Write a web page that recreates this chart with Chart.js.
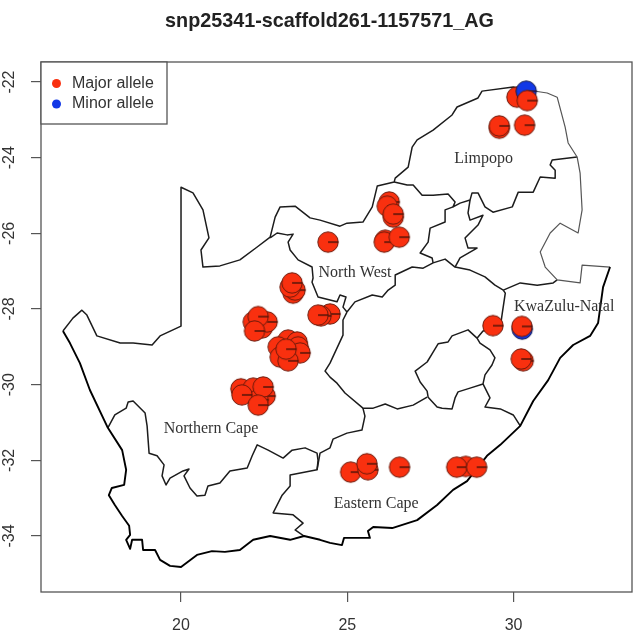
<!DOCTYPE html>
<html>
<head>
<meta charset="utf-8">
<title>snp25341-scaffold261-1157571_AG</title>
<script src="https://cdn.jsdelivr.net/npm/chart.js@4/dist/chart.umd.min.js"></script>
<style>
  html, body { margin: 0; padding: 0; background: #fff; }
  canvas { display: block; filter: blur(0.4px); }
</style>
</head>
<body>
<canvas id="mapChart" width="636" height="633"></canvas>
<script>
const chartTitle = "snp25341-scaffold261-1157571_AG";
const xTicks = [20, 25, 30];
const yTicks = [-22, -24, -26, -28, -30, -32, -34];
const legendLabels = ["Major allele", "Minor allele"];

// sample sites [lon, lat], later ones sit on top
const majorBehind = [[30.10, -22.40]];
const minorSites = [[30.38, -22.24], [30.26, -28.53]];
const majorSites = [
  [30.41, -22.49], [29.57, -23.22], [29.57, -23.16], [30.33, -23.14],
  [24.42, -26.23], [26.14, -26.18], [26.11, -26.23], [26.56, -26.10],
  [26.26, -25.17], [26.20, -25.28], [26.38, -25.57], [26.38, -25.49],
  [23.37, -27.58], [23.43, -27.50], [23.28, -27.42], [23.34, -27.31],
  [24.48, -28.13], [24.21, -28.18], [24.12, -28.16],
  [22.17, -28.34], [22.44, -28.50], [22.59, -28.34], [22.32, -28.20], [22.21, -28.58],
  [23.22, -28.82], [23.49, -28.87], [22.92, -29.00], [23.52, -29.00],
  [23.58, -29.16], [22.98, -29.27], [23.22, -29.37], [23.16, -29.06],
  [21.80, -30.11], [22.17, -30.09], [22.53, -30.30], [22.32, -30.40],
  [21.83, -30.27], [22.47, -30.06], [22.32, -30.54],
  [29.38, -28.44], [30.25, -28.46], [30.29, -29.37], [30.23, -29.32],
  [25.10, -32.31], [25.62, -32.25], [25.59, -32.09], [26.57, -32.18],
  [28.56, -32.16], [28.29, -32.18], [28.89, -32.18]
];

// province labels
const regionNames = ["Limpopo", "North West", "KwaZulu-Natal", "Northern Cape", "Eastern Cape"];
const regionLon = [29.10, 25.23, 31.52, 20.90, 25.87];
const regionLat = [-24.04, -27.05, -27.95, -31.17, -33.15];

// outer border, split where the line weight changes in the map
const coastBorder = [
  [16.45,-28.58],[16.66,-28.90],[16.96,-29.43],[17.26,-30.14],[17.80,-31.14],[18.23,-31.73],
  [18.35,-32.25],[18.29,-32.65],[17.92,-32.73],[17.83,-32.92],[18.01,-33.18],[18.23,-33.47],
  [18.44,-33.73],[18.47,-33.97],[18.35,-34.10],[18.47,-34.34],[18.53,-34.10],[18.83,-34.10],
  [18.86,-34.37],[19.22,-34.37],[19.37,-34.63],[19.67,-34.79],[20,-34.82],[20.48,-34.50],
  [20.93,-34.40],[21.32,-34.42],[21.77,-34.37],[22.17,-34.10],[22.68,-34.00],[23.28,-34.10],
  [23.70,-34.00],[24.18,-34.10],[24.48,-34.18],[24.84,-34.24],[24.90,-34.05],[25.68,-34.05],
  [25.62,-33.87],[25.78,-33.76],[26.35,-33.79],[27.10,-33.58],[27.70,-33.18],[28.18,-32.78],
  [28.60,-32.55],[29.20,-31.88],[29.60,-31.59],[30.20,-31.09],[30.59,-30.43],[31.04,-29.88],
  [31.40,-29.29],[31.79,-28.95],[32.30,-28.71],[32.54,-28.37],[32.69,-27.42],[32.90,-26.89]
];
const eastBorder = [
  [32.90,-26.89],[32.06,-26.84],[32.00,-27.31],[31.31,-27.23],[30.95,-26.89],[30.80,-26.49],
  [31.10,-25.99],[31.40,-25.73],[31.94,-25.99],[32.06,-25.38],[32.00,-24.41],[31.91,-23.98],
  [31.64,-23.61],[31.55,-23.19],[31.31,-22.40],[31.01,-22.29],[30.41,-22.21]
];
const northBorder = [
  [30.41,-22.21],[29.99,-22.13],[29.05,-22.24],[28.93,-22.42],[28.30,-22.66],[28.15,-22.87],
  [27.58,-23.27],[27.10,-23.53],[26.95,-23.72],[26.83,-24.25],[26.44,-24.54],[26.41,-24.64],
  [25.90,-24.75],[25.75,-25.30],[25.47,-25.70],[24.99,-25.73],[24.78,-25.81],[24.18,-25.65],
  [23.88,-25.59],[23.43,-25.28],[22.98,-25.30],[22.83,-25.57],[22.68,-26.10],[22.29,-26.36],
  [21.77,-26.70],[21.17,-26.86],[20.66,-26.89],[20.60,-26.44],[20.84,-26.12],[20.66,-25.38],
  [20.36,-24.93],[20,-24.78],[20,-28.45],[19.37,-28.71],[19.13,-28.95],[18.56,-28.90],
  [18.17,-28.90],[17.47,-28.71],[17.17,-28.16],[17.02,-28.03],[16.75,-28.24],[16.45,-28.58]
];

// province borders
const northWestBorder = [
  [22.68,-26.12],[22.89,-25.99],[23.19,-26.04],[23.37,-26.02],[23.22,-26.23],[23.28,-26.44],
  [23.52,-26.70],[23.94,-26.89],[23.97,-27.18],[23.94,-27.29],[24.12,-27.68],[24.48,-27.76],
  [24.69,-27.81],[24.78,-27.63],[24.96,-27.68],[24.87,-27.95],[24.99,-28.08]
];
const freeStateNorth = [
  [24.99,-28.08],[25.23,-27.81],[25.75,-27.63],[26.05,-27.68],[26.23,-27.50],[26.44,-27.37],
  [26.44,-27.10],[26.95,-26.89],[27.28,-26.92],[27.58,-26.78],[27.94,-26.68],[28.24,-26.89],
  [28.69,-26.97],[29.14,-27.15],[29.44,-27.37],[29.69,-27.50]
];
const kznNorth = [[29.69,-27.50],[30.20,-27.31],[30.71,-27.37],[31.19,-27.31],[31.31,-27.23]];
const freeStateEast = [[29.69,-27.50],[29.75,-27.58],[29.66,-28.11],[29.60,-28.48],[29.08,-28.58],[28.90,-28.77]];
const freeStateSouth = [
  [24.99,-28.08],[24.87,-28.29],[24.87,-28.69],[24.48,-29.43],[24.33,-29.64],[24.48,-29.80],
  [24.69,-29.96],[24.93,-30.22],[25.47,-30.62],[25.78,-30.62],[26.14,-30.51],[26.50,-30.64],
  [26.98,-30.54],[27.40,-30.33]
];
const easternCapeWest = [
  [25.47,-30.62],[25.53,-30.83],[25.44,-31.20],[24.99,-31.28],[24.57,-31.44],[24.48,-31.67],
  [24.18,-31.81],[24.09,-32.25],[23.28,-32.39],[23.28,-32.68],[23.04,-32.92],[22.77,-33.39],
  [23.37,-33.44],[23.67,-33.66],[23.43,-33.84],[23.70,-34.00]
];
const westernCapeNorth = [
  [17.80,-31.14],[18.01,-30.80],[18.35,-30.62],[18.41,-30.46],[18.56,-30.43],[18.92,-30.75],
  [18.98,-31.09],[19.04,-31.81],[19.28,-31.88],[19.49,-32.12],[19.43,-32.41],[19.55,-32.65],
  [19.67,-32.47],[20.06,-32.28],[20.24,-32.23],[20.09,-32.41],[20.27,-32.73],[20.48,-32.94],
  [20.72,-32.92],[20.81,-32.68],[21.17,-32.60],[21.47,-32.28],[21.99,-32.20],[22.14,-31.88],
  [22.29,-31.59],[22.62,-31.73],[23.07,-31.94],[23.34,-31.73],[23.73,-31.67],[24.09,-31.81],
  [24.12,-32.00],[24.09,-32.25]
];
const lesothoBorder = [
  [28.90,-28.77],[28.63,-28.55],[28.39,-28.63],[28.15,-28.71],[28.03,-28.87],[27.73,-28.92],
  [27.58,-29.14],[27.40,-29.40],[27.04,-29.64],[27.19,-29.93],[27.40,-30.17],[27.43,-30.33],
  [27.70,-30.59],[27.85,-30.62],[28.15,-30.64],[28.24,-30.35],[28.33,-30.19],[28.69,-30.09],
  [29.08,-29.98],[29.14,-29.74],[29.35,-29.48],[29.44,-29.29],[29.29,-29.08],[28.99,-28.90],
  [28.90,-28.77]
];
const kznSouth = [[29.08,-29.98],[29.29,-30.35],[29.14,-30.59],[29.60,-30.64],[29.99,-30.80],[30.20,-31.09]];
const limpopoSouth = [
  [26.41,-24.64],[26.80,-24.72],[26.98,-24.72],[27.25,-24.99],[27.58,-24.99],[28.03,-24.96],
  [28.24,-25.17],[28.18,-25.30],[28.39,-25.20],[28.69,-25.12],[28.75,-24.93],[28.93,-24.93],
  [29.14,-25.30],[29.38,-25.44],[29.96,-25.30],[30.14,-24.91],[30.59,-24.91],[30.80,-24.51],
  [31.25,-24.54],[31.25,-24.33],[31.10,-24.19],[31.16,-24.06],[31.91,-23.98]
];
const gautengWest = [
  [28.18,-25.30],[27.94,-25.38],[27.94,-25.70],[27.49,-25.86],[27.43,-26.23],[27.19,-26.52],
  [27.55,-26.65],[27.58,-26.78]
];
const gautengEast = [
  [28.69,-25.12],[28.63,-25.46],[28.69,-25.65],[29.08,-25.52],[28.93,-25.78],[28.54,-26.12],
  [28.63,-26.39],[28.90,-26.39],[28.39,-26.65],[28.24,-26.89]
];

const innerBorders = [
  northBorder, northWestBorder, freeStateNorth, kznNorth, freeStateEast, freeStateSouth,
  easternCapeWest, westernCapeNorth, lesothoBorder, kznSouth, limpopoSouth, gautengWest, gautengEast
];

const RED = "#f9300f";
const BLUE = "#1238e6";
const AXIS = "#555555";
const TEXT = "#333333";

// one "pie" marker: filled circle with a radius line to the right
function pieMarker(fill, edge) {
  const c = document.createElement("canvas");
  c.width = 26;
  c.height = 26;
  const g = c.getContext("2d");
  g.beginPath();
  g.arc(13, 13, 10.2, 0, Math.PI * 2);
  g.fillStyle = fill;
  g.fill();
  g.lineWidth = 1;
  g.strokeStyle = edge;
  g.stroke();
  g.beginPath();
  g.moveTo(13, 13);
  g.lineTo(23.2, 13);
  g.lineWidth = 1.3;
  g.strokeStyle = "#3a1008";
  g.stroke();
  return c;
}

const redMarker = pieMarker(RED, "#6a1a0c");
const blueMarker = pieMarker(BLUE, "#10184a");

function siteDataset(label, data, marker, order) {
  return {
    label, data, order,
    pointStyle: marker,
    pointRadius: 10,
    pointHoverRadius: 10,
    showLine: false
  };
}

function borderDataset(data, color, width) {
  return {
    label: "border", data, order: 10, showLine: true, pointRadius: 0,
    borderColor: color, borderWidth: width, borderJoinStyle: "round", tension: 0, fill: false
  };
}

const datasets = [
  siteDataset("Major allele", majorSites, redMarker, 1),
  siteDataset("Minor allele", minorSites, blueMarker, 2),
  siteDataset("Major allele", majorBehind, redMarker, 3),
  borderDataset(coastBorder, "#000", 1.9),
  borderDataset(eastBorder, "#555", 1.2)
];
innerBorders.forEach(b => datasets.push(borderDataset(b, "#1c1c1c", 1.5)));

// box round the plot, province names and the legend box
const mapDecor = {
  id: "mapDecor",
  afterLayout(chart) {
    // title sits a bit right of the canvas centre in the original
    chart.titleBlock.left = 27;
  },
  afterDatasetsDraw(chart) {
    const { ctx, chartArea: a, scales } = chart;
    ctx.save();
    ctx.font = "16px 'Liberation Serif'";
    ctx.fillStyle = TEXT;
    ctx.textAlign = "center";
    ctx.textBaseline = "middle";
    regionNames.forEach((n, i) => {
      ctx.fillText(n, scales.x.getPixelForValue(regionLon[i]), scales.y.getPixelForValue(regionLat[i]));
    });

    ctx.strokeStyle = AXIS;
    ctx.lineWidth = 1.3;
    ctx.strokeRect(a.left, a.top, a.right - a.left, a.bottom - a.top);

    ctx.fillStyle = "#fff";
    ctx.fillRect(a.left, a.top, 126, 62);
    ctx.strokeRect(a.left, a.top, 126, 62);
    ctx.font = "16px 'Liberation Sans'";
    ctx.textAlign = "left";
    legendLabels.forEach((t, i) => {
      const y = a.top + 21.5 + i * 20.5;
      ctx.beginPath();
      ctx.arc(a.left + 15.5, y, 4.5, 0, Math.PI * 2);
      ctx.fillStyle = i === 0 ? RED : BLUE;
      ctx.fill();
      ctx.fillStyle = TEXT;
      ctx.fillText(t, a.left + 31, y);
    });
    ctx.restore();
  }
};

new Chart(document.getElementById("mapChart"), {
  type: "scatter",
  data: { datasets },
  plugins: [mapDecor],
  options: {
    responsive: false,
    animation: false,
    layout: { autoPadding: false, padding: { left: 0, right: 4, top: 0, bottom: 0 } },
    plugins: {
      legend: { display: false },
      tooltip: { enabled: false },
      title: {
        display: true,
        text: chartTitle,
        color: "#222",
        font: { family: "'Liberation Sans'", size: 19.8, weight: "bold", lineHeight: 1.2 },
        padding: { top: 10, bottom: 28.24 }
      }
    },
    scales: {
      x: {
        type: "linear",
        min: 15.79,
        max: 33.56,
        afterFit: s => { s.height = 41; },
        afterBuildTicks: s => { s.ticks = xTicks.map(v => ({ value: v })); },
        grid: { drawOnChartArea: false, drawTicks: true, tickLength: 10, color: AXIS, lineWidth: 1.2 },
        border: { display: false },
        ticks: {
          color: TEXT, padding: 14, maxRotation: 0, autoSkip: false,
          font: { family: "'Liberation Sans'", size: 16 },
          callback: v => String(v)
        }
      },
      y: {
        type: "linear",
        min: -35.48,
        max: -21.47,
        afterFit: s => { s.width = 41; },
        afterBuildTicks: s => { s.ticks = yTicks.map(v => ({ value: v })); },
        grid: { drawOnChartArea: false, drawTicks: true, tickLength: 10, color: AXIS, lineWidth: 1.2 },
        border: { display: false },
        ticks: {
          color: TEXT, padding: 10, minRotation: 90, maxRotation: 90, autoSkip: false,
          crossAlign: "center",
          font: { family: "'Liberation Sans'", size: 16 },
          callback: v => String(v)
        }
      }
    }
  }
});
</script>
</body>
</html>
